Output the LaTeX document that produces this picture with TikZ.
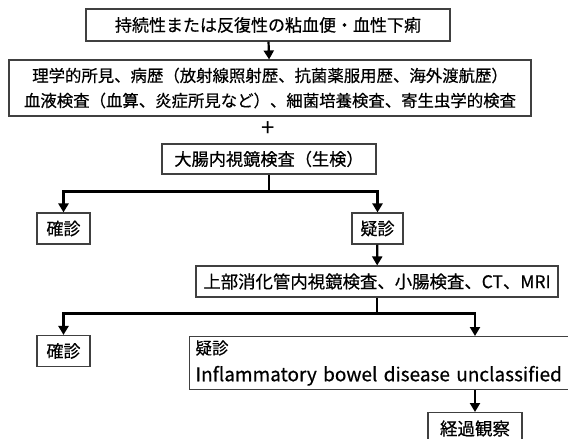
\documentclass[tikz,border=0pt]{standalone}
\usepackage{fontspec}
\setmainfont{Noto Sans CJK JP}[BoldFont={Noto Sans CJK JP},BoldFeatures={FakeBold=0.5}]
\usetikzlibrary{arrows.meta,positioning,calc}

\begin{document}
\begin{tikzpicture}[x=1pt,y=-1pt,>={Triangle[length=9pt,width=10pt]},
  box/.style={draw=black!75,line width=1.1pt,inner sep=0pt,align=center},
  flow/.style={->,line width=2.2pt},
  trunk/.style={line width=2.2pt}]
  \useasboundingbox (0,0) rectangle (568,439);
  % boxes
  \node[box,minimum width=364,minimum height=32,font=\fontsize{17}{20}\selectfont\bfseries] (start) at (268,25) {持続性または反復性の粘血便・血性下痢};
  \node[box,minimum width=522,minimum height=56,font=\fontsize{16.4}{25}\selectfont\bfseries] (hist) at (270,88) {理学的所見、病歴（放射線照射歴、抗菌薬服用歴、海外渡航歴）\\血液検査（血算、炎症所見など）、細菌培養検査、寄生虫学的検査};
  \node[font=\fontsize{24}{20}\selectfont] (plus) at (268,129) {+};
  \node[box,minimum width=214,minimum height=30,font=\fontsize{17.2}{20}\selectfont\bfseries] (colon) at (269,159) {大腸内視鏡検査（生検）};
  \node[box,minimum width=53,minimum height=31,font=\fontsize{17}{20}\selectfont\bfseries] (kaku1) at (63.5,228.5) {確診};
  \node[box,minimum width=51,minimum height=31,font=\fontsize{17}{20}\selectfont\bfseries] (gi1) at (377.5,228.5) {疑診};
  \node[box,minimum width=362,minimum height=31,font=\fontsize{17.4}{20}\selectfont\bfseries] (upper) at (377,281.5) {上部消化管内視鏡検査、小腸検査、CT、MRI};
  \node[box,minimum width=53,minimum height=31,font=\fontsize{17}{20}\selectfont\bfseries] (kaku2) at (63.5,351) {確診};
  \node[box,anchor=north west,minimum width=380,minimum height=53,text width=368,inner xsep=6,align=left,font=\fontsize{19}{27}\selectfont\bfseries] (ibd) at (189,336) {{\fontsize{16.5}{27}\selectfont 疑診}\\Inflammatory bowel disease unclassified};
  \node[box,anchor=north,minimum width=94,minimum height=32,font=\fontsize{17.5}{20}\selectfont\bfseries] (watch) at (475,412) {経過観察};
  % connectors
  \coordinate (j1) at ($(colon.south)+(0,17)$);
  \coordinate (j2) at ($(upper.south)+(0,16)$);
  \draw[flow] (start) -- (hist);
  \draw[trunk] (colon.south) -- (j1);
  \draw[flow] (j1) -| (kaku1.north);
  \draw[flow] (j1) -| (gi1.north);
  \draw[flow] (gi1) -- (upper);
  \draw[trunk] (upper.south) -- (j2);
  \draw[flow] (j2) -| (kaku2.north);
  \draw[flow] (j2) -| (ibd.north -| watch.north);
  \draw[flow] (ibd.south -| watch.north) -- (watch.north);
\end{tikzpicture}
\end{document}
